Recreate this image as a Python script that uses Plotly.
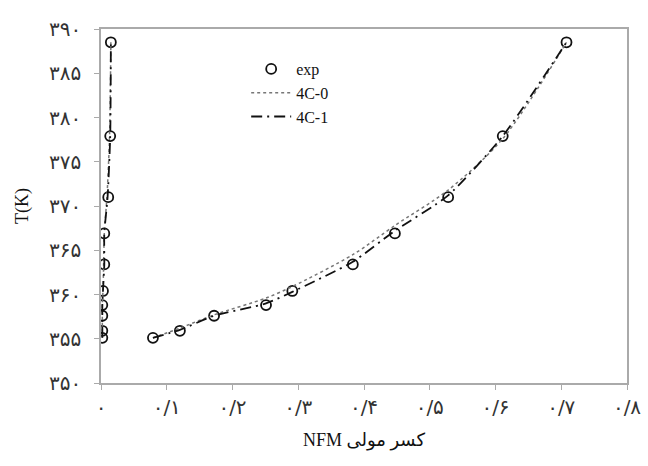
import plotly.graph_objects as go

# Experimental data (temperature, liquid mole fraction, vapour mole fraction)
T_exp = [355.1, 355.9, 357.6, 358.8, 360.4, 363.4, 366.9, 371.0, 377.9, 388.5]
x_liq = [0.079, 0.120, 0.172, 0.251, 0.291, 0.383, 0.447, 0.528, 0.611, 0.708]
y_vap = [0.002, 0.002, 0.002, 0.002, 0.003, 0.005, 0.005, 0.011, 0.014, 0.015]

# Model 4C-0
T_4c0_liq = [355.1, 356.2, 357.7, 359.6, 360.9, 364.5, 367.8, 371.8, 377.6, 388.5]
y_4c0_vap = [0.002, 0.002, 0.002, 0.002, 0.003, 0.004, 0.005, 0.009, 0.013, 0.015]
# Model 4C-1
T_4c1_liq = [355.1, 356.0, 357.6, 359.0, 360.3, 363.7, 367.2, 371.2, 377.9, 388.5]
y_4c1_vap = [0.002, 0.002, 0.002, 0.002, 0.003, 0.005, 0.005, 0.010, 0.014, 0.015]

fa = "\u06f0\u06f1\u06f2\u06f3\u06f4\u06f5\u06f6\u06f7\u06f8\u06f9"
def fa_num(s):
    return "".join(fa[int(c)] if c.isdigit() else c for c in s)

x_ticks = [0, 0.1, 0.2, 0.3, 0.4, 0.5, 0.6, 0.7, 0.8]
x_tick_text = [fa_num("0")] + [fa_num("0/" + str(i)) for i in range(1, 9)]
y_ticks = [350, 355, 360, 365, 370, 375, 380, 385, 390]
y_tick_text = [fa_num(str(v)) for v in y_ticks]

font_fam = "Liberation Serif, DejaVu Serif, DejaVu Sans, serif"
tick_fam = "DejaVu Sans, sans-serif"

fig = go.Figure()

def branches(xl, yl, xv, yv):
    return list(xv) + [None] + list(xl), list(yv) + [None] + list(yl)

bx, by = branches(x_liq, T_exp, y_vap, T_exp)
fig.add_trace(go.Scatter(
    x=bx, y=by, mode="markers", name="exp",
    marker=dict(symbol="circle-open", size=10, color="#111",
                line=dict(width=1.8, color="#111")),
))

bx, by = branches(x_liq, T_4c0_liq, y_4c0_vap, T_exp)
fig.add_trace(go.Scatter(
    x=bx, y=by, mode="lines", name="4C-0", connectgaps=False,
    line=dict(color="#777", width=1.5, dash="dot", shape="spline", smoothing=0.8),
))

bx, by = branches(x_liq, T_4c1_liq, y_4c1_vap, T_exp)
fig.add_trace(go.Scatter(
    x=bx, y=by, mode="lines", name="4C-1", connectgaps=False,
    line=dict(color="#111", width=1.8, dash="11px,5px,2px,5px", shape="spline", smoothing=0.6),
))

axis_common = dict(
    showline=True, linecolor="#aaaaaa", linewidth=1.5, mirror=True,
    ticks="outside", ticklen=5, tickcolor="#aaaaaa", tickwidth=1,
    showgrid=False, zeroline=False, automargin=False,
    tickfont=dict(family=tick_fam, size=20, color="#333"),
)

fig.update_layout(
    width=648, height=466,
    margin=dict(l=101, r=21, t=29, b=83),
    paper_bgcolor="white", plot_bgcolor="white",
    font=dict(family=font_fam, size=17, color="#111"),
    showlegend=True,
    legend=dict(x=0.276, y=0.935, xanchor="left", yanchor="top",
                bgcolor="rgba(0,0,0,0)", font=dict(family=font_fam, size=16, color="#111"),
                tracegroupgap=0, itemwidth=40),
    xaxis=dict(range=[0, 0.8], tickvals=x_ticks, ticktext=x_tick_text,
               ticklabelstandoff=0,
               title=dict(text="NFM کسر مولی", font=dict(family=font_fam, size=18, color="#111"), standoff=16),
               **axis_common),
    yaxis=dict(range=[350, 390], tickvals=y_ticks, ticktext=y_tick_text,
               ticklabelstandoff=9,
               title=dict(text="T(K)", font=dict(family=font_fam, size=18, color="#111"), standoff=16),
               **axis_common),
)

fig.write_html("out.html", config={"displayModeBar": False},
               post_script="document.body.style.margin='0';document.body.style.padding='0';")
